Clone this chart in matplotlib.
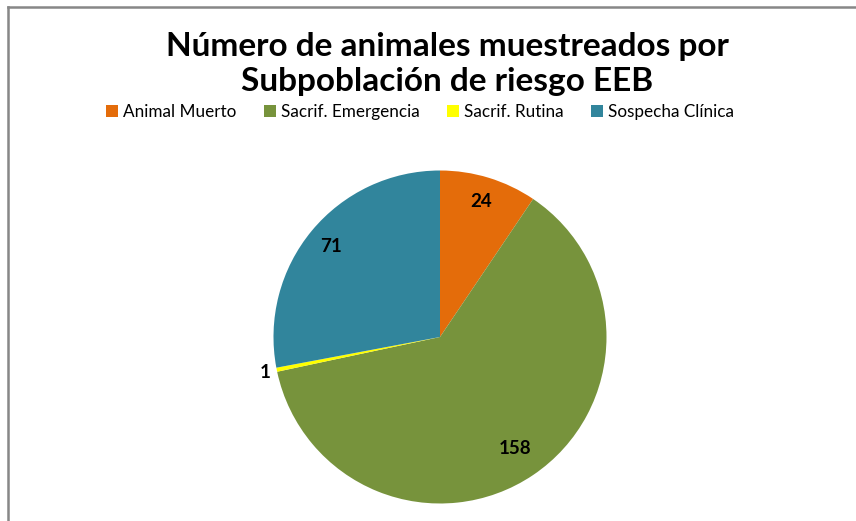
import matplotlib
matplotlib.use('Agg')
import matplotlib.pyplot as plt
from matplotlib.lines import Line2D
from matplotlib.patches import Patch
import numpy as np

plt.rcParams['font.family'] = ['Lato', 'DejaVu Sans']

# datos
categorias = ['Animal Muerto', 'Sacrif. Emergencia', 'Sacrif. Rutina', 'Sospecha Clínica']
valores = [24, 158, 1, 71]
colores = ['#E46C0A', '#77933C', '#FFFF00', '#31859C']
dist_etiqueta = [0.85, 0.81, 1.07, 0.85]

fig = plt.figure(figsize=(8.56, 5.21), dpi=100)
ax = fig.add_axes([0.3195, 0.0336, 333 / 856, 333 / 521])

wedges, _ = ax.pie(valores, colors=colores, startangle=90, counterclock=False,
                   radius=1, wedgeprops=dict(linewidth=0))
ax.set_xlim(-1, 1)
ax.set_ylim(-1, 1)
ax.set_aspect('auto')

# etiquetas de valor
for w, v, d in zip(wedges, valores, dist_etiqueta):
    ang = np.deg2rad((w.theta1 + w.theta2) / 2)
    ax.text(d * np.cos(ang), d * np.sin(ang), str(v), ha='center', va='center',
            fontsize=13.5, fontweight='bold', color='black')

# titulo
fig.text(447 / 856, 1 - 64 / 521, 'Número de animales muestreados por\nSubpoblación de riesgo EEB',
         ha='center', va='center', fontsize=24, fontweight='bold', linespacing=1.25)

# leyenda
handles = [Patch(facecolor=c, edgecolor='none') for c in colores]
fig.legend(handles, categorias, loc='center', bbox_to_anchor=(420 / 856, 1 - 112 / 521),
           ncol=4, frameon=False, fontsize=12.3, handlelength=0.7, handleheight=0.7,
           handletextpad=0.3, columnspacing=1.6, borderaxespad=0)

# borde del grafico
fig.add_artist(Line2D([8 / 856, 8 / 856], [0, 1 - 7 / 521], color='#878787', lw=1.8,
                      transform=fig.transFigure))
fig.add_artist(Line2D([8 / 856, 1], [1 - 7 / 521, 1 - 7 / 521], color='#878787', lw=1.8,
                      transform=fig.transFigure))

fig.savefig('out.png', dpi=100)
